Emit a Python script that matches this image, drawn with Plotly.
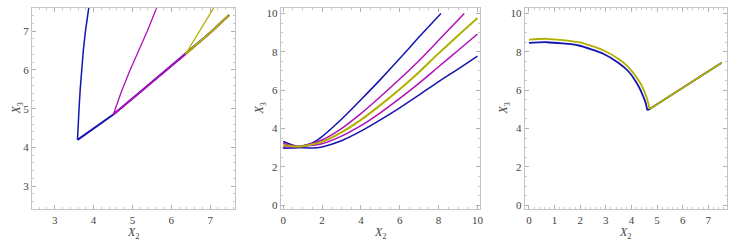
import plotly.graph_objects as go

BLUE = "#1414b0"
MAG = "#b010b8"
OLI = "#b0b000"

# Panel 1
p1_blue_branch_x = [3.585, 3.60, 3.625, 3.655, 3.69, 3.735, 3.79, 3.875]
p1_blue_branch_y = [4.196, 4.6, 5.0, 5.5, 6.0, 6.5, 7.0, 7.6]
p1_mag_branch_x = [4.508, 4.70, 4.92, 5.15, 5.38, 5.62]
p1_mag_branch_y = [4.85, 5.4, 5.95, 6.47, 7.0, 7.6]
p1_oli_branch_x = [6.364, 6.72, 7.09]
p1_oli_branch_y = [6.405, 7.0, 7.6]
p1_lower_x = [3.585, 4.0, 4.508, 5.0, 5.5, 6.0, 6.364, 7.0, 7.49]
p1_lower_y = [4.196, 4.49, 4.85, 5.26, 5.68, 6.1, 6.405, 6.96, 7.416]

# Panel 2
p2_x_blue_up = [0, 0.4, 0.84, 1.5, 2, 3, 4, 5, 6, 7, 8.12]
p2_y_blue_up = [3.32, 3.17, 3.06, 3.25, 3.58, 4.48, 5.5, 6.55, 7.65, 8.78, 10.0]
p2_x_mag_up = [0, 0.84, 2, 3, 4, 5, 6, 7, 8, 9.32]
p2_y_mag_up = [3.22, 3.06, 3.4, 4.0, 4.78, 5.66, 6.58, 7.55, 8.6, 10.0]
p2_x_oli = [0, 0.84, 2, 3, 4, 5, 6, 7, 8, 9, 10]
p2_y_oli = [3.13, 3.06, 3.3, 3.8, 4.45, 5.22, 6.05, 6.95, 7.92, 8.85, 9.76]
p2_x_mag_lo = [0, 0.84, 2, 3, 4, 5, 6, 7, 8, 9, 10]
p2_y_mag_lo = [3.04, 3.06, 3.2, 3.6, 4.15, 4.82, 5.57, 6.37, 7.22, 8.07, 8.93]
p2_x_blue_lo = [0, 0.8, 1.5, 2, 3, 4, 5, 6, 7, 8, 9, 10]
p2_y_blue_lo = [2.97, 3.0, 2.98, 3.04, 3.36, 3.86, 4.45, 5.08, 5.75, 6.45, 7.1, 7.77]

# Panel 3 (arc part, then straight part)
p3_blue_arc_x = [0, 0.7, 1.94, 2.9, 3.5, 3.87, 4.1, 4.3, 4.45, 4.55, 4.62]
p3_blue_arc_y = [8.47, 8.5, 8.33, 7.9, 7.42, 7.0, 6.6, 6.15, 5.7, 5.35, 4.95]
p3_oli_arc_x = [0, 0.7, 1.94, 2.9, 3.5, 3.87, 4.1, 4.35, 4.5, 4.62, 4.71]
p3_oli_arc_y = [8.64, 8.68, 8.5, 8.08, 7.62, 7.22, 6.85, 6.36, 5.95, 5.5, 5.02]
p3_line_x = [4.62, 4.71, 7.52]
p3_line_y = [4.95, 5.02, 7.43]

fig = go.Figure()

def add(x, y, color, w, xa, ya, shape="spline"):
    line = dict(color=color, width=w, shape=shape)
    if shape == "spline":
        line["smoothing"] = 0.6
    fig.add_trace(go.Scatter(x=x, y=y, mode="lines", line=line,
                             xaxis=xa, yaxis=ya, showlegend=False, hoverinfo="skip"))

# panel 1
add(p1_lower_x, p1_lower_y, BLUE, 2, "x", "y", "linear")
add(p1_blue_branch_x, p1_blue_branch_y, BLUE, 1.5, "x", "y", "linear")
add(p1_lower_x[2:], p1_lower_y[2:], MAG, 2, "x", "y", "linear")
add(p1_mag_branch_x, p1_mag_branch_y, MAG, 1.3, "x", "y", "linear")
add(p1_lower_x[6:], p1_lower_y[6:], OLI, 2, "x", "y", "linear")
add(p1_oli_branch_x, p1_oli_branch_y, OLI, 1.3, "x", "y", "linear")

# panel 2
add(p2_x_blue_up, p2_y_blue_up, BLUE, 1.5, "x2", "y2")
add(p2_x_blue_lo, p2_y_blue_lo, BLUE, 1.5, "x2", "y2")
add(p2_x_mag_up, p2_y_mag_up, MAG, 1.5, "x2", "y2")
add(p2_x_mag_lo, p2_y_mag_lo, MAG, 1.5, "x2", "y2")
add(p2_x_oli, p2_y_oli, OLI, 2, "x2", "y2")

# panel 3
add(p3_blue_arc_x, p3_blue_arc_y, BLUE, 1.8, "x3", "y3")
add(p3_line_x, p3_line_y, BLUE, 1.8, "x3", "y3", "linear")
add(p3_oli_arc_x, p3_oli_arc_y, OLI, 1.8, "x3", "y3")
add(p3_line_x[1:], p3_line_y[1:], OLI, 1.8, "x3", "y3", "linear")

FRAME = "#c4c4c4"
TF = dict(family="Liberation Serif", size=11, color="#444444")

def xaxis(dom, rng, dtick, minor):
    return dict(domain=dom, range=rng, dtick=dtick, tick0=0, showgrid=False, zeroline=False,
                showline=True, mirror="allticks", linecolor=FRAME, linewidth=1,
                ticks="inside", ticklen=4, tickcolor="#b0b0b0", tickwidth=1, tickfont=TF,
                minor=dict(dtick=minor, ticks="inside", ticklen=2, tickcolor="#c8c8c8", showgrid=False))

def yaxis(rng, dtick, minor, anchor):
    return dict(domain=[0.1352, 0.9713], range=rng, dtick=dtick, tick0=0, showgrid=False, zeroline=False,
                showline=True, mirror="allticks", linecolor=FRAME, linewidth=1, anchor=anchor,
                ticks="inside", ticklen=4, tickcolor="#b0b0b0", tickwidth=1, tickfont=TF,
                minor=dict(dtick=minor, ticks="inside", ticklen=2, tickcolor="#c8c8c8", showgrid=False))

fig.update_layout(
    width=740, height=244, margin=dict(l=0, r=0, t=0, b=0),
    paper_bgcolor="white", plot_bgcolor="white",
    xaxis=xaxis([0.0432, 0.3189], [2.41, 7.64], 1, 0.2),
    yaxis=yaxis([2.4, 7.6], 1, 0.2, "x"),
    xaxis2=xaxis([0.3807, 0.6518], [-0.133, 10.15], 2, 0.5),
    yaxis2=yaxis([-0.22, 10.29], 2, 0.5, "x2"),
    xaxis3=xaxis([0.7118, 0.9858], [-0.17, 7.71], 1, 0.2),
    yaxis3=yaxis([-0.22, 10.29], 2, 0.5, "x3"),
)
fig.layout.xaxis2.anchor = "y2"
fig.layout.xaxis3.anchor = "y3"

AF = dict(family="Liberation Serif", size=12, color="#444444")
for xc in [134, 382, 628]:
    fig.add_annotation(x=xc / 740, y=1 - 235 / 244, xref="paper", yref="paper", text="<i>X</i><sub>2</sub>",
                       showarrow=False, font=AF, xanchor="center", yanchor="middle")
for xc in [17, 261, 506]:
    fig.add_annotation(x=xc / 740, y=1 - 108 / 244, xref="paper", yref="paper", text="<i>X</i><sub>3</sub>",
                       showarrow=False, font=AF, textangle=-90, xanchor="center", yanchor="middle")

fig.write_html("out.html", config={"displayModeBar": False},
               post_script="document.body.style.margin='0';document.body.style.overflow='hidden';")
